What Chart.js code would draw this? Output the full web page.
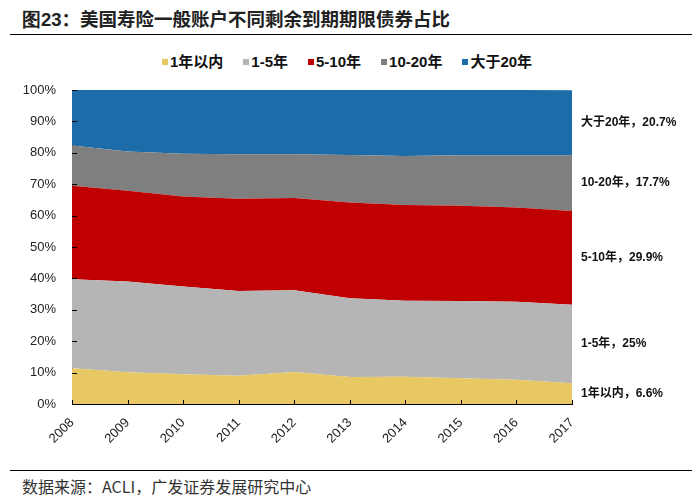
<!DOCTYPE html>
<html>
<head>
<meta charset="utf-8">
<script src="https://cdn.jsdelivr.net/npm/chart.js@4"></script>
<style>
body{margin:0;width:700px;height:499px;background:#fff;position:relative;overflow:hidden;font-family:"Liberation Sans","Noto Sans CJK SC",sans-serif;}
#title{position:absolute;left:22px;top:5px;font-size:18.5px;font-weight:bold;color:#222;font-family:"Noto Sans CJK SC",sans-serif;white-space:nowrap;}
#title b{font-family:"Liberation Sans",sans-serif;}
#line1{position:absolute;left:10px;top:34px;width:682px;height:1px;background:#000;}
#line2{position:absolute;left:10px;top:470px;width:682px;height:1px;background:#000;}
#source{position:absolute;left:22px;top:476px;font-size:16px;color:#333;font-family:"Noto Sans CJK SC",sans-serif;white-space:nowrap;line-height:20px;}
#legend{position:absolute;left:162px;top:52px;height:20px;white-space:nowrap;font-size:15px;font-weight:bold;color:#111;font-family:"Liberation Sans","Noto Sans CJK SC",sans-serif;line-height:20px;}
#legend span.item{margin-right:20px;}
#legend i{display:inline-block;width:6px;height:6px;margin-right:2px;vertical-align:middle;position:relative;top:-1px;}
#wrap{position:absolute;left:0;top:40px;width:700px;height:430px;}
</style>
</head>
<body>
<div id="title"><b>图23</b>：美国寿险一般账户不同剩余到期期限债券占比</div>
<div id="line1"></div>
<div id="legend"></div>
<div id="wrap"><canvas id="areaChart"></canvas></div>
<div id="line2"></div>
<div id="source">数据来源：ACLI，广发证券发展研究中心</div>
<script>
var years = ['2008','2009','2010','2011','2012','2013','2014','2015','2016','2017'];
var names = ['1年以内','1-5年','5-10年','10-20年','大于20年'];
var colors = ['#E8C862','#B5B5B5','#C00000','#7F7F7F','#1B6CA8'];
var within1 = [11.4, 10.1, 9.5, 9.0, 10.2, 8.6, 8.7, 8.2, 7.7, 6.6];
var y1to5 = [28.3, 28.9, 27.9, 27.0, 26.0, 25.1, 24.2, 24.6, 24.9, 25.0];
var y5to10 = [29.8, 28.9, 28.7, 29.4, 29.4, 30.5, 30.5, 30.3, 30.0, 29.9];
var y10to20 = [12.8, 12.5, 13.6, 14.1, 13.9, 15.1, 15.6, 16.1, 16.6, 17.7];
var over20 = [17.7, 19.6, 20.3, 20.5, 20.5, 20.7, 21.0, 20.8, 20.8, 20.7];
var endLabels = ['1年以内，6.6%','1-5年，25%','5-10年，29.9%','10-20年，17.7%','大于20年，20.7%'];
var series = [within1, y1to5, y5to10, y10to20, over20];

// legend
var lg = document.getElementById('legend');
var html = '';
for(var i in names){
	html += '<span class="item"><i style="background:'+colors[i]+'"></i>'+names[i]+'</span>';
}
lg.innerHTML = html;

var datasets = [];
for(var i in series){
	datasets.push({
		label: names[i],
		data: series[i],
		backgroundColor: colors[i],
		borderColor: colors[i],
		borderWidth: 0,
		pointRadius: 0,
		fill: i==0 ? 'origin' : '-1',
		tension: 0
	});
}

// right side labels + inward ticks
var extras = {
	id: 'extras',
	afterDraw: function(chart){
		var c = chart.ctx;
		var xs = chart.scales.x, ys = chart.scales.y;
		var area = chart.chartArea;
		c.save();
		c.strokeStyle = '#000';
		c.lineWidth = 1;
		c.beginPath();
		for(var v=0; v<=100; v+=10){
			var py = Math.round(ys.getPixelForValue(v))+0.5;
			c.moveTo(area.left, py); c.lineTo(area.left+5, py);
		}
		for(var k=0; k<years.length; k++){
			var px = Math.round(xs.getPixelForValue(k))+0.5;
			c.moveTo(px, area.bottom); c.lineTo(px, area.bottom-4);
		}
		c.stroke();
		c.fillStyle = '#111';
		c.font = 'bold 12px "Liberation Sans","Noto Sans CJK SC"';
		c.textBaseline = 'middle';
		var last = years.length-1, base = 0;
		for(var j=0; j<series.length; j++){
			var top = base + series[j][last];
			var mid = ys.getPixelForValue((base+top)/2);
			c.fillText(endLabels[j], area.right+9, mid);
			base = top;
		}
		c.restore();
	}
};

var ctx = document.getElementById('areaChart').getContext('2d');
var chart = new Chart(ctx, {
	type: 'line',
	data: { labels: years, datasets: datasets },
	options: {
		responsive: true,
		maintainAspectRatio: false,
		animation: false,
		layout: { padding: { top: 50, left: 10, right: 128, bottom: 4 } },
		plugins: {
			legend: { display: false },
			tooltip: { enabled: false }
		},
		scales: {
			x: {
				grid: { display: false },
				border: { color: '#000', width: 1 },
				ticks: { color: '#222', maxRotation: 45, minRotation: 45, padding: 3, font: { size: 13, family: '"Liberation Sans"' } },
				afterFit: function(s){ s.height = 62; }
			},
			y: {
				stacked: true,
				min: 0, max: 100,
				grid: { display: false },
				border: { color: '#000', width: 1 },
				ticks: { stepSize: 10, color: '#222', padding: 8, font: { size: 13, family: '"Liberation Sans"' },
					callback: function(v){ return v+'%'; } },
				afterFit: function(s){ s.width = 62; }
			}
		}
	},
	plugins: [extras]
});
</script>
</body>
</html>
